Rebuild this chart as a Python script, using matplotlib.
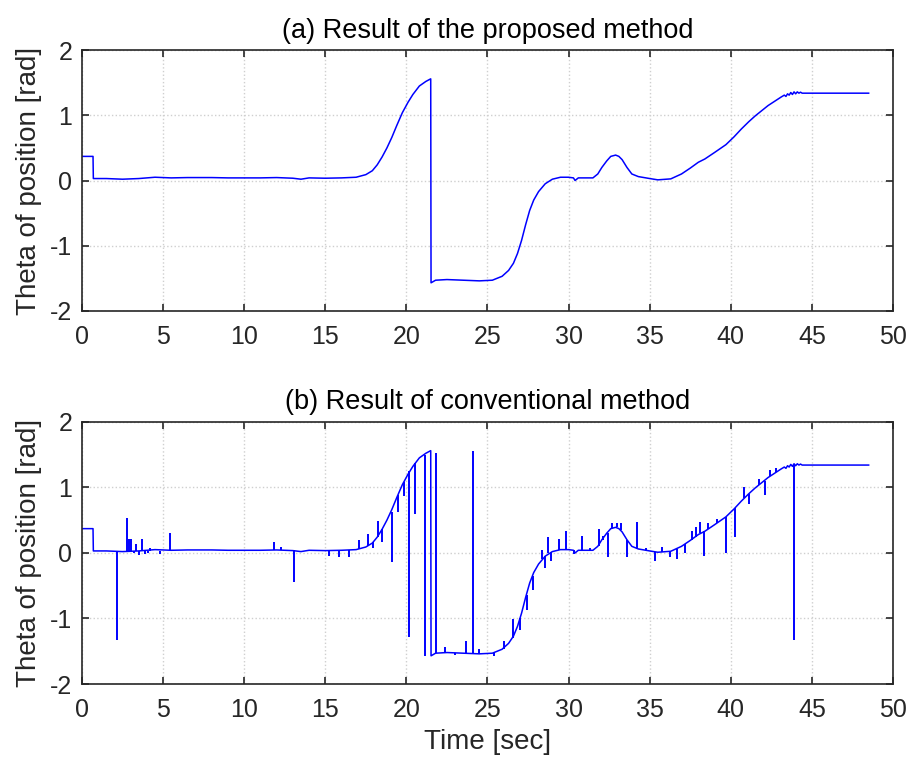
import matplotlib
matplotlib.use("Agg")
import matplotlib.pyplot as plt
import numpy as np

plt.rcParams['font.family'] = ['Liberation Sans', 'DejaVu Sans']
plt.rcParams['axes.unicode_minus'] = False

# Base trajectory (proposed method), time [sec] and theta [rad]
base_t = [0, 0.68, 0.7, 1.5, 2.5, 3.5, 4.5, 5.5, 6.5, 8, 9, 10, 11, 12, 13, 13.5, 14, 15, 16,
          16.9, 17.5, 17.9, 18.2, 18.5, 18.8, 19.1, 19.4, 19.75, 20.1, 20.4, 20.8, 21.2, 21.5,
          21.52, 21.8, 22.5, 23.5, 24.5, 25.3, 25.9, 26.3, 26.6, 26.85, 27.1, 27.35, 27.6, 27.85,
          28.15, 28.56, 29.0, 29.5, 30.0, 30.3, 30.4, 30.6, 31.5, 31.8, 32.05, 32.35, 32.6, 32.9,
          33.1, 33.3, 33.6, 33.9, 34.3, 35.0, 35.5, 36.3, 36.96, 37.5, 38.0, 38.4, 39.0, 39.7,
          40.2, 40.65, 41.1, 41.5, 42.3, 43.1, 43.3, 43.4, 43.5, 43.6, 43.7, 43.8, 43.9, 44.0,
          44.1, 44.2, 44.3, 44.4, 48.5]
base_v = [0.37, 0.37, 0.03, 0.03, 0.02, 0.03, 0.05, 0.04, 0.045, 0.045, 0.04, 0.04, 0.04, 0.045,
          0.035, 0.02, 0.04, 0.035, 0.04,
          0.05, 0.09, 0.15, 0.24, 0.36, 0.5, 0.66, 0.84, 1.04, 1.2, 1.32, 1.45, 1.52, 1.56,
          -1.57, -1.53, -1.52, -1.53, -1.54, -1.53, -1.47, -1.38, -1.27, -1.12, -0.92, -0.68,
          -0.46, -0.3,
          -0.17, -0.05, 0.02, 0.05, 0.05, 0.04, 0.0, 0.04, 0.04, 0.1, 0.2, 0.3, 0.37, 0.39,
          0.37, 0.32, 0.2, 0.1, 0.06, 0.03, 0.01, 0.025, 0.1, 0.19, 0.28, 0.33, 0.43, 0.55,
          0.67, 0.79, 0.9, 0.99, 1.15, 1.28, 1.31, 1.29, 1.33, 1.31, 1.35, 1.32, 1.36, 1.33,
          1.36, 1.34, 1.355, 1.34, 1.34]

# Spikes of the conventional method: time, value on trajectory, spike tip
spike_t = [2.13, 2.75, 2.9, 3.05, 3.2, 3.36, 3.5, 3.69, 3.9, 4.05, 4.2, 4.8, 5.45,
           11.86, 12.3, 13.05, 15.24, 15.86, 16.47, 17.09, 17.62, 17.95, 18.23, 18.5,
           19.09, 19.48, 19.83, 20.18, 20.53, 21.14, 21.8, 22.4, 23.0, 23.7, 24.09, 24.5,
           25.4, 26.0, 26.6, 27.03, 27.43, 27.82, 28.35, 28.56, 28.76, 28.93, 29.38, 29.87,
           30.35, 30.85, 31.3, 31.86, 32.1, 32.4, 32.7, 33.0, 33.23, 33.62, 34.23, 34.8,
           35.32, 35.77, 36.24, 36.7, 37.16, 37.6, 37.86, 38.13, 38.35, 38.6, 39.13, 39.7,
           40.26, 40.8, 41.1, 41.73, 42.08, 42.4, 42.8, 43.9]
spike_base = [0.03, 0.03, 0.03, 0.03, 0.03, 0.03, 0.03, 0.03, 0.03, 0.03, 0.03, 0.03, 0.04,
              0.05, 0.05, 0.04, 0.04, 0.04, 0.04, 0.06, 0.1, 0.17, 0.25, 0.36,
              0.63, 0.88, 1.08, 1.25, 1.37, 1.5, -1.53, -1.52, -1.53, -1.53, -1.53, -1.54,
              -1.53, -1.46, -1.30, -1.0, -0.64, -0.36, -0.1, -0.05, 0.0, 0.02, 0.04, 0.05,
              0.04, 0.04, 0.04, 0.1, 0.2, 0.31, 0.38, 0.39, 0.35, 0.19, 0.06, 0.04,
              0.02, 0.02, 0.02, 0.06, 0.13, 0.2, 0.25, 0.3, 0.33, 0.37, 0.45, 0.55,
              0.69, 0.83, 0.9, 1.03, 1.1, 1.17, 1.23, 1.34]
spike_tip = [-1.33, 0.54, 0.21, 0.21, 0.0, 0.13, -0.03, 0.21, -0.02, 0.0, 0.08, -0.02, 0.30,
             0.17, 0.09, -0.45, -0.05, -0.07, -0.07, 0.2, 0.29, 0.08, 0.49, 0.16,
             -0.14, 0.63, 0.87, -1.29, 0.6, -1.57, 1.53, -1.44, -1.55, -1.34, 1.55, -1.47,
             -1.58, -1.34, -1.01, -1.17, -0.87, -0.56, 0.05, -0.23, 0.24, -0.13, 0.21, 0.33,
             -0.01, 0.26, 0.07, 0.37, 0.26, -0.07, 0.46, 0.45, 0.45, -0.06, 0.47, 0.07,
             -0.12, 0.09, -0.07, -0.09, 0.0, 0.34, 0.40, 0.47, -0.05, 0.45, 0.52, 0.0,
             0.24, 1.0, 0.75, 1.13, 0.89, 1.26, 1.29, -1.33]

titles = ["(a) Result of the proposed method", "(b) Result of conventional method"]
ylabel = "Theta of position [rad]"
xlabel = "Time [sec]"
xticks = [0, 5, 10, 15, 20, 25, 30, 35, 40, 45, 50]
yticks = [-2, -1, 0, 1, 2]

txt = '#262626'
fig = plt.figure(figsize=(9.1, 7.6), dpi=100)
ax1 = fig.add_axes([0.0901, 0.591, 0.8912, 0.343])
ax2 = fig.add_axes([0.0901, 0.100, 0.8912, 0.345])

for i, ax in enumerate([ax1, ax2]):
    ax.plot(base_t, base_v, color=(0, 0, 1), lw=1.1)
    if i == 1:
        ax.vlines(spike_t, spike_base, spike_tip, color=(0, 0, 1), lw=1.4)
    ax.set_xlim(0, 50)
    ax.set_ylim(-2, 2)
    ax.set_xticks(xticks)
    ax.set_yticks(yticks)
    ax.grid(True, color='#cfcfcf', linestyle=':', linewidth=1.0)
    ax.set_axisbelow(True)
    ax.tick_params(direction='in', top=True, right=True, length=5, width=1.2,
                   labelsize=18, colors='#262626', labelcolor=txt)
    ax.tick_params(axis='x', pad=10)
    ax.tick_params(axis='y', pad=7)
    for s in ax.spines.values():
        s.set_color('#262626')
        s.set_linewidth(1.2)
    ax.set_title(titles[i], fontsize=19.5, color='black', pad=9)
    ax.set_ylabel(ylabel, fontsize=20, color=txt, labelpad=6)

ax2.set_xlabel(xlabel, fontsize=20, color=txt, labelpad=5)

fig.savefig("out.png", dpi=100)
